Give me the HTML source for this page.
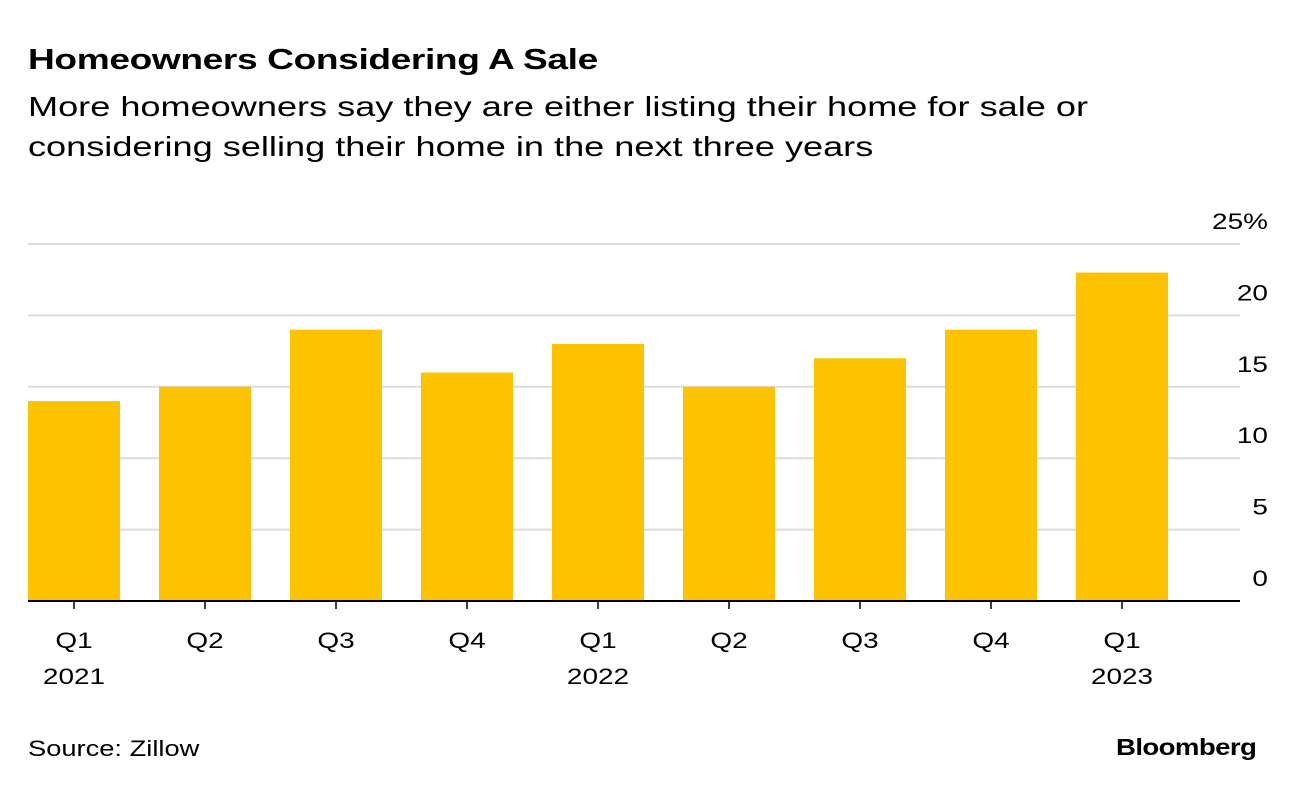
<!DOCTYPE html>
<html><head><meta charset="utf-8">
<style>
body{margin:0;background:#fff;font-family:"Liberation Sans",Arial,sans-serif;color:#000}
#wrap{position:relative;width:1296px;height:792px;overflow:hidden}
.t{position:absolute;white-space:nowrap;transform-origin:0 0}
</style></head>
<body>
<div id="wrap">
<div class="t" style="left:28px;top:44px;font-size:29px;font-weight:bold;letter-spacing:-0.3px;transform:scaleX(1.28)">Homeowners Considering A Sale</div>
<div class="t" style="left:28px;top:87px;font-size:28px;line-height:40px;transform:scaleX(1.29)">More homeowners say they are either listing their home for sale or<br>considering selling their home in the next three years</div>
<svg id="chart" width="1296" height="792" style="position:absolute;left:0;top:0"></svg>
<div class="t" style="left:28px;top:736px;font-size:22px;transform:scaleX(1.24)">Source: Zillow</div>
<div class="t" style="left:1116px;top:734px;font-size:23px;font-weight:bold;letter-spacing:-0.5px;transform:scaleX(1.2)">Bloomberg</div>
</div>
<script>
const quarters=["Q1","Q2","Q3","Q4","Q1","Q2","Q3","Q4","Q1"];
const years=["2021","","","","2022","","","","2023"];
const values=[14,15,19,16,18,15,17,19,23];
const yTicks=[0,5,10,15,20,25];
const yTickLabels=["0","5","10","15","20","25%"];
const ns="http://www.w3.org/2000/svg";
const svg=document.getElementById("chart");
const y0=601,yTop=244,yMax=25;
const y=v=>y0-(v/yMax)*(y0-yTop);
const x0=28,step=131,bw=92;
const xc=i=>x0+bw/2+i*step;
function mk(t,a){const e=document.createElementNS(ns,t);for(const k in a)e.setAttribute(k,a[k]);svg.appendChild(e);return e;}
function widen(t){const w=t.getComputedTextLength();t.setAttribute("textLength",w*1.27);t.setAttribute("lengthAdjust","spacingAndGlyphs");}
yTicks.forEach((v,i)=>{
 if(v>0){const g=mk("line",{x1:28,x2:1240,y1:y(v),y2:y(v),stroke:"#dcdcdc","stroke-width":2});
 
 }
 const t=mk("text",{x:1268,y:y(v)-15,"text-anchor":"end","font-size":22,"font-family":"Liberation Sans, Arial, sans-serif"});
 t.textContent=yTickLabels[i];
 
 
 widen(t);
});
values.forEach((v,i)=>{
 const r=mk("rect",{x:xc(i)-bw/2,y:y(v),width:bw,height:y0-y(v),fill:"#fdc300"});
 
 
 const tk=mk("line",{x1:xc(i),x2:xc(i),y1:y0,y2:y0+8,stroke:"#000","stroke-width":1.5});
 
 
 const q=mk("text",{x:xc(i),y:648,"text-anchor":"middle","font-size":22,"font-family":"Liberation Sans, Arial, sans-serif"});
 q.textContent=quarters[i];
 
 
 widen(q);
 if(years[i]){const yr=mk("text",{x:xc(i),y:684,"text-anchor":"middle","font-size":22,"font-family":"Liberation Sans, Arial, sans-serif"});
 yr.textContent=years[i];
 
 
 widen(yr);}
});
const ax=mk("line",{x1:28,x2:1240,y1:y0,y2:y0,stroke:"#000","stroke-width":2});


</script>
</body></html>
